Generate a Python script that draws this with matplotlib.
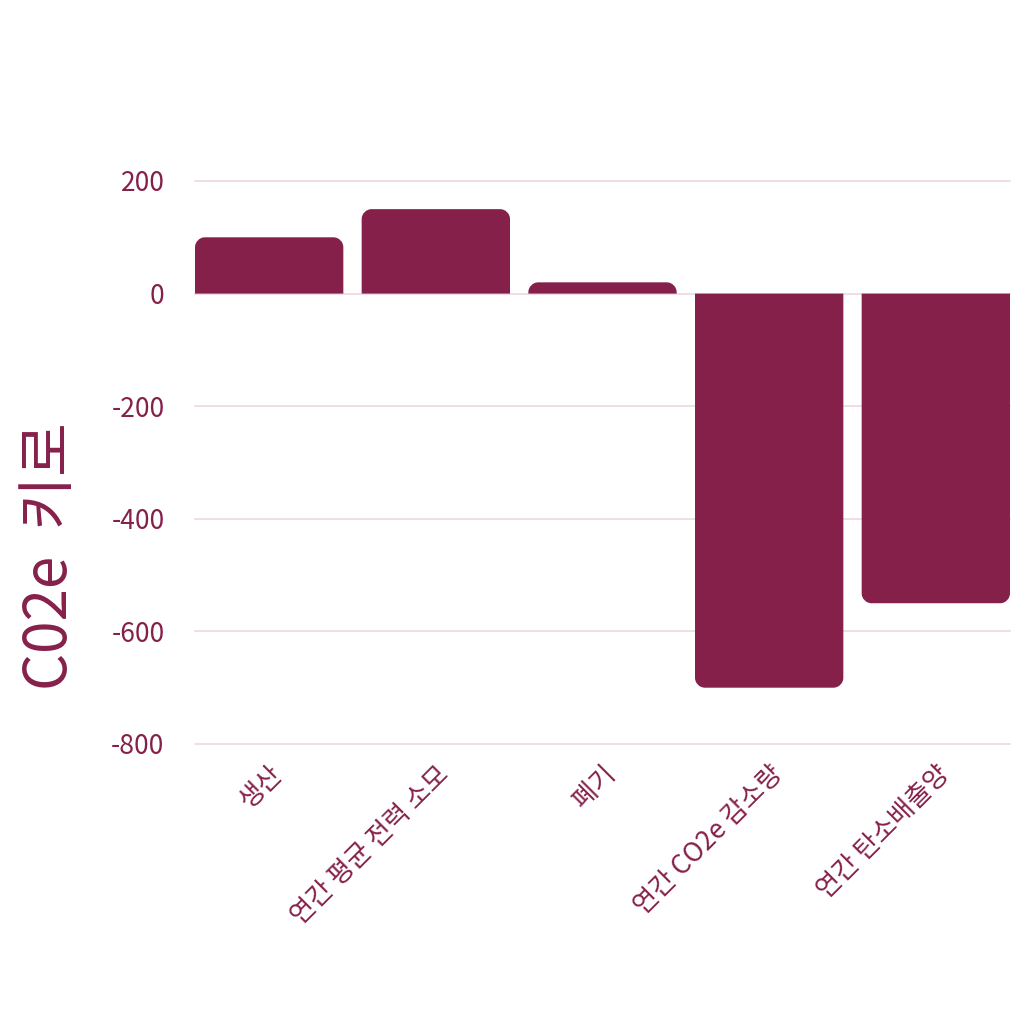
import matplotlib
matplotlib.use("Agg")
import matplotlib.pyplot as plt
from matplotlib.path import Path
from matplotlib.patches import PathPatch

plt.rcParams['font.family'] = ['Noto Sans CJK KR', 'DejaVu Sans']

categories = ["생산", "연간 평균 전력 소모", "폐기", "연간 CO2e 감소량", "연간 탄소배출양"]
values = [100, 150, 20, -700, -550]
yticks = [200, 0, -200, -400, -600, -800]
ylabel = "C02e  키로"

COLOR = "#85204a"
GRID = "#eed8e1"

fig = plt.figure(figsize=(10.24, 10.24), dpi=100)
ax = fig.add_axes([195/1024, 280/1024, 815/1024, 563/1024])

w = 0.89
xs = list(range(len(categories)))
bars = ax.bar(xs, values, width=w, color=COLOR, zorder=2)
ax.set_xlim(-w/2, len(categories) - 1 + w/2)
ax.set_ylim(-800, 200)
fig.canvas.draw()

# round the far corners of each bar (radius in pixels)
r_px = 10
inv = ax.transData.inverted()
x0d, y0d = inv.transform((0, 0))
x1d, y1d = inv.transform((r_px, r_px))
rx, ry = abs(x1d - x0d), abs(y1d - y0d)
k = 0.5523
for b in bars:
    b.set_visible(False)
    x = b.get_x(); bw = b.get_width(); h = b.get_height(); y = b.get_y()
    left, right = x, x + bw
    base, tip = y, y + h
    s = 1 if h >= 0 else -1
    ryy = min(ry, abs(tip - base)) * s
    verts = [
        (left, base),
        (left, tip - ryy),
        (left, tip - ryy + k*ryy), (left + rx - k*rx, tip), (left + rx, tip),
        (right - rx, tip),
        (right - rx + k*rx, tip), (right, tip - ryy + k*ryy), (right, tip - ryy),
        (right, base),
        (left, base),
    ]
    codes = [Path.MOVETO, Path.LINETO,
             Path.CURVE4, Path.CURVE4, Path.CURVE4,
             Path.LINETO,
             Path.CURVE4, Path.CURVE4, Path.CURVE4,
             Path.LINETO, Path.CLOSEPOLY]
    ax.add_patch(PathPatch(Path(verts, codes), facecolor=COLOR, edgecolor='none', zorder=2))

ax.set_yticks(yticks)
ax.set_yticklabels([str(t) for t in yticks])
ax.grid(axis='y', color=GRID, linewidth=1.2, zorder=0)
for gl in ax.get_ygridlines():
    gl.set_clip_on(False)
ax.set_axisbelow(True)
for sp in ax.spines.values():
    sp.set_visible(False)
ax.tick_params(axis='both', length=0, colors=COLOR, labelsize=19)
ax.tick_params(axis='y', pad=22)
ax.set_xticks(xs)
ax.set_xticklabels(categories, rotation=45, ha='right', rotation_mode='anchor')
ax.tick_params(axis='x', pad=12)
for lbl in ax.get_xticklabels():
    lbl.set_color(COLOR)

fig.text(50/1024, 1 - 556/1024, ylabel, rotation=90, ha='center', va='center',
         fontsize=42, color=COLOR)

fig.savefig("out.png", dpi=100, facecolor='white')
